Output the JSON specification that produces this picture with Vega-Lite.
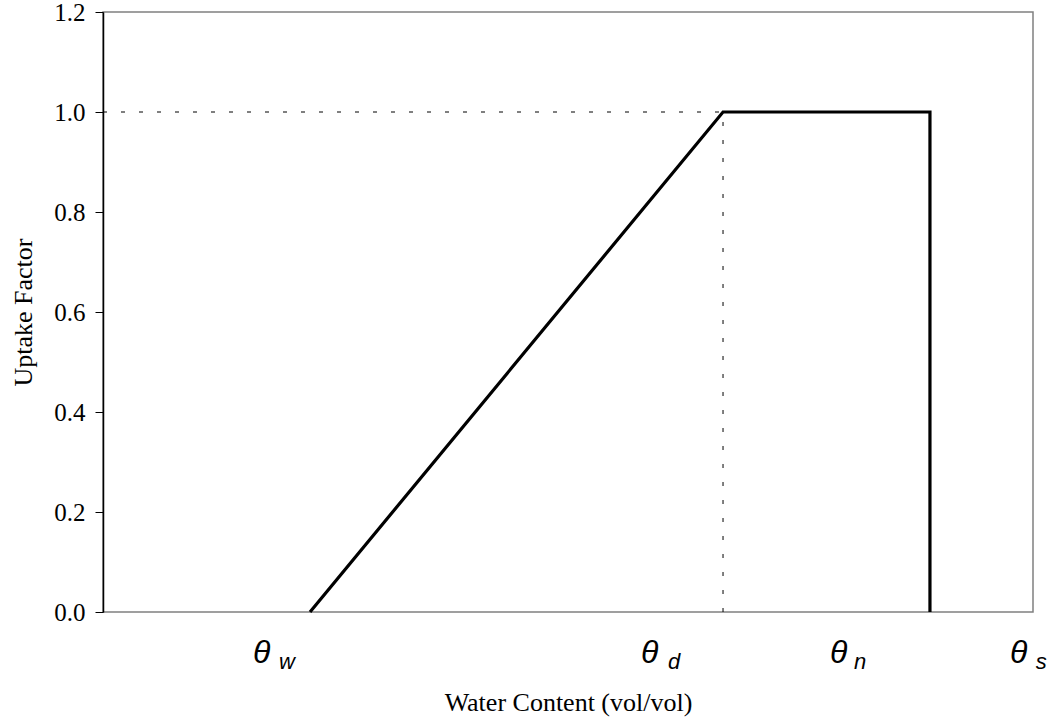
{
  "$schema": "https://vega.github.io/schema/vega-lite/v6.json",
  "width": 930,
  "height": 600,
  "autosize": {"type": "none"},
  "padding": {"left": 103, "top": 12, "right": 16, "bottom": 109},
  "background": "white",
  "config": {
    "view": {"stroke": "#808080", "strokeWidth": 1.5},
    "axis": {"grid": false}
  },
  "datasets": {
    "curve": [
      {"order": 1, "wc": 22.26, "uf": 0},
      {"order": 2, "wc": 66.67, "uf": 1},
      {"order": 3, "wc": 88.92, "uf": 1},
      {"order": 4, "wc": 88.92, "uf": 0}
    ],
    "guides": [
      {"x1": 0, "x2": 66.67, "y1": 1, "y2": 1},
      {"x1": 66.67, "x2": 66.67, "y1": 0, "y2": 1}
    ],
    "thetas": [
      {"label": "θ", "wc": 16.13, "uf": -0.102},
      {"label": "θ", "wc": 57.85, "uf": -0.102},
      {"label": "θ", "wc": 78.17, "uf": -0.102},
      {"label": "θ", "wc": 97.53, "uf": -0.102}
    ],
    "subs": [
      {"label": "w", "wc": 18.92, "uf": -0.114},
      {"label": "d", "wc": 60.75, "uf": -0.114},
      {"label": "n", "wc": 80.75, "uf": -0.114},
      {"label": "s", "wc": 100.3, "uf": -0.114}
    ]
  },
  "layer": [
    {
      "data": {"name": "guides"},
      "mark": {"type": "rule", "color": "#000000", "strokeWidth": 1, "strokeDash": [4, 14]},
      "encoding": {
        "x": {"field": "x1", "type": "quantitative", "scale": {"domain": [0, 100], "nice": false, "zero": false},
          "axis": {"labels": false, "ticks": false, "domain": false, "title": "Water Content (vol/vol)", "titleFont": "Liberation Serif", "titleFontSize": 26, "titleFontWeight": "normal", "titleColor": "#000000", "titlePadding": 77}},
        "x2": {"field": "x2"},
        "y": {"field": "y1", "type": "quantitative", "scale": {"domain": [0, 1.2], "nice": false, "zero": false},
          "axis": {"values": [0, 0.2, 0.4, 0.6, 0.8, 1.0, 1.2], "format": ".1f", "labelFont": "Liberation Serif", "labelFontSize": 25, "labelColor": "#000000", "tickColor": "#000000", "tickSize": 8, "tickWidth": 1, "domainColor": "#000000", "domainWidth": 1.5, "labelPadding": 10, "title": "Uptake Factor", "titleFont": "Liberation Serif", "titleFontSize": 26, "titleFontWeight": "normal", "titleColor": "#000000", "titlePadding": 17}},
        "y2": {"field": "y2"}
      }
    },
    {
      "data": {"name": "curve"},
      "mark": {"type": "line", "color": "#000000", "strokeWidth": 3.2, "strokeJoin": "miter"},
      "encoding": {
        "x": {"field": "wc", "type": "quantitative"},
        "y": {"field": "uf", "type": "quantitative"},
        "order": {"field": "order", "type": "quantitative"}
      }
    },
    {
      "data": {"name": "thetas"},
      "mark": {"type": "text", "font": "Liberation Sans", "fontStyle": "italic", "fontSize": 32, "align": "left", "baseline": "alphabetic", "color": "#000000", "clip": false},
      "encoding": {
        "x": {"field": "wc", "type": "quantitative"},
        "y": {"field": "uf", "type": "quantitative"},
        "text": {"field": "label"}
      }
    },
    {
      "data": {"name": "subs"},
      "mark": {"type": "text", "font": "Liberation Sans", "fontStyle": "italic", "fontSize": 22, "align": "left", "baseline": "alphabetic", "color": "#000000", "clip": false},
      "encoding": {
        "x": {"field": "wc", "type": "quantitative"},
        "y": {"field": "uf", "type": "quantitative"},
        "text": {"field": "label"}
      }
    }
  ]
}
